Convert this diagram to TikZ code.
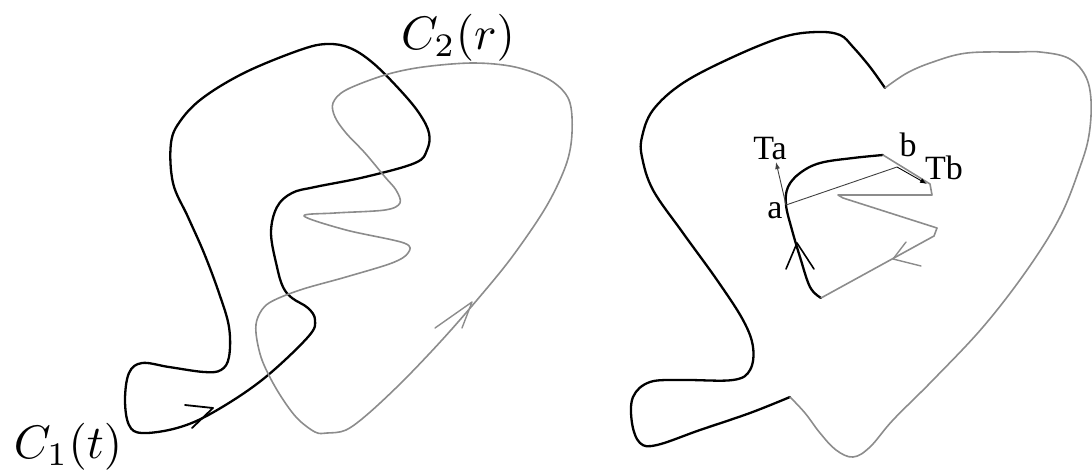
\documentclass[tikz,border=0pt]{standalone}
\usepackage{fontspec}
\usepackage{graphicx}
\newfontfamily\tms{Liberation Serif}
\usetikzlibrary{arrows.meta}
\begin{document}
\begin{tikzpicture}[x=1pt,y=-1pt,
  blk/.style={draw=black, line width=2.3pt, line join=round, line cap=round},
  gry/.style={draw=black!45, line width=1.6pt, line join=round, line cap=round},
  fine/.style={draw=black!75, line width=0.9pt},
  mlbl/.style={inner sep=0pt},
  tlbl/.style={inner sep=0pt, font=\tms}]
\useasboundingbox (0,0) rectangle (1092,474);

% ---------- left panel ----------
\draw[blk] plot[smooth cycle, tension=0.6] coordinates {(142,433) (177,428) (212,413) (262,380) (308,337) (315,320) (308,308) (292,298) (283,287) (277,267) (271,233) (277,207) (292,193) (315,187) (365,177) (415,163) (427,150) (429,133) (419,113) (400,90) (373,63) (350,48) (327,44) (300,50) (246,72) (204,97) (181,120) (171,143) (173,183) (188,217) (204,253) (219,293) (229,327) (229,357) (221,370) (204,372) (169,367) (142,363) (129,373) (125,400) (129,425)};

\draw[gry] plot[smooth cycle, tension=0.55] coordinates {(327,433) (346,430) (369,413) (404,380) (442,340) (477,300) (512,257) (546,207) (566,165) (572,133) (569,100) (550,80) (515,67) (473,63) (423,67) (385,75) (346,90) (333,103) (335,117) (346,133) (365,153) (385,177) (396,190) (400,203) (385,210) (335,213) (304,216) (346,230) (404,243) (408,253) (392,263) (346,277) (300,290) (269,303) (258,317) (256,333) (262,360) (277,390) (296,417) (315,432)};

% arrowheads
\draw[blk, line width=1.8pt] (185,405) -- (213,408) -- (192,428);
\draw[gry, line width=1.4pt] (435,328) -- (472,302) -- (462,328);

\node[mlbl] (c1) at (68,447) {\scalebox{4.7}{$C_1(t)$}};
\node[mlbl] (c2) at (458,38) {\scalebox{4.7}{$C_2(r)$}};

% ---------- right panel ----------
\draw[blk] plot[smooth, tension=0.6] coordinates {(790,397) (750,413) (700,430) (657,445) (640,443) (632,423) (633,397) (650,382) (683,380) (733,380) (750,370) (753,347) (743,320) (717,280) (683,233) (653,190) (642,157) (642,137) (653,110) (683,83) (733,57) (783,37) (817,32) (840,35) (853,47) (870,67) (885,88)};

\draw[gry] plot[smooth, tension=0.6] coordinates {(885,88) (907,73) (933,62) (967,53) (1017,52) (1040,52) (1068,58) (1085,75) (1091,100) (1089,135) (1080,167) (1060,217) (1027,270) (983,327) (933,380) (893,420) (870,447) (853,457) (836,450) (820,433) (805,413) (790,397)};

% inner loop
\draw[blk] plot[smooth, tension=0.6] coordinates {(821,298) (810,287) (800,257) (792,230) (786,205) (788,187) (800,173) (820,163) (853,158) (883,155)};
\draw[gry] (883,155) -- (930,184) -- (932,195) -- (838,195) -- (843,198) -- (937,228) -- (934,236) -- (821,298);

% inner arrowheads
\draw[blk, line width=1.6pt] (786,269) -- (797,243) -- (814,269);
\draw[gry, line width=1.4pt] (921,266) -- (893,259) -- (906,242);

\coordinate (a) at (786,205);
\coordinate (b) at (897,167);
\coordinate (ta) at (776,162);
\coordinate (tb) at (927,184);
\draw[fine] (a) -- (b);
\draw[fine, -{Latex[length=7pt,width=5pt]}] (a) -- (ta);
\draw[fine, black, -{Latex[length=7pt,width=5pt]}] (b) -- (tb);

\node[tlbl] (lta) at (770,149) {\scalebox{3.4}{Ta}};
\node[tlbl] (la) at (775,211) {\scalebox{3.4}{a}};
\node[tlbl] (lb) at (908,145) {\scalebox{3.4}{b}};
\node[tlbl] (ltb) at (944,168) {\scalebox{3.4}{Tb}};
\end{tikzpicture}
\end{document}
